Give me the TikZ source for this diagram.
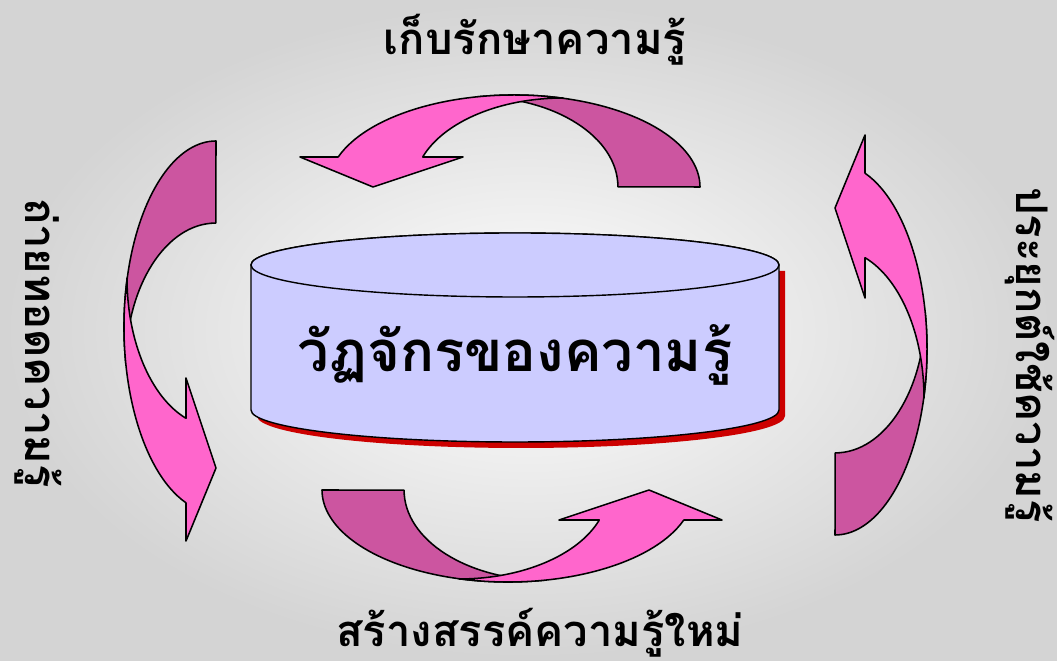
\documentclass[tikz,border=0pt]{standalone}
\usepackage{fontspec}
\newfontfamily\thaifont[Script=Thai]{Loma}
\definecolor{ribbonpink}{RGB}{255,102,204}
\definecolor{ribbondark}{RGB}{204,85,160}
\definecolor{drumblue}{RGB}{204,204,255}
\definecolor{drumshadow}{RGB}{204,0,0}
\begin{document}
\begin{tikzpicture}[
        x=0.025cm, y=0.025cm,
        steplabel/.style={font=\thaifont\bfseries\fontsize{31}{36}\selectfont, inner sep=0pt},
        band/.style={draw=black, line width=1.1pt, line join=round},
        cyclearrow/.pic={
            % back half of the ribbon
            \path[band, fill=ribbondark] (186,0) arc[start angle=0, end angle=101.5, x radius=186, y radius=92]
                arc[start angle=90, end angle=0, x radius=141, y radius=90] -- cycle;
            % front half with the head
            \path[band, fill=ribbonpink] (49,88.75) arc[start angle=74.73, end angle=160.97, x radius=186, y radius=92]
                -- (-214,30) -- (-141,0) -- (-51,30) -- (-91.3,30)
                arc[start angle=160.3, end angle=90, x radius=149, y radius=89] -- cycle;
        }
    ]
    \shade[inner color=white, outer color=black!17] (0,0) rectangle (1057,661);
    \useasboundingbox (0,0) rectangle (1057,661);

    % the four turning arrows
    \pic at (514,474) {cyclearrow};
    \pic[rotate=90] at (216,334) {cyclearrow};
    \pic[rotate=180] at (508,171) {cyclearrow};
    \pic[rotate=-90] at (835,312) {cyclearrow};

    % drum in the middle
    \begin{scope}[shift={(6,-6)}]
        \fill[drumshadow] (251,396) -- (251,251) arc[start angle=180, end angle=360, x radius=264, y radius=32] -- (779,396) -- cycle;
    \end{scope}
    \path[draw, fill=drumblue, line width=1pt] (251,396) -- (251,251) arc[start angle=180, end angle=360, x radius=264, y radius=32]
        -- (779,396) arc[start angle=0, end angle=180, x radius=264, y radius=32] -- cycle;
    \draw[fill=drumblue, line width=1pt] (515,396) ellipse[x radius=264, y radius=32];
    \node[font=\thaifont\bfseries\fontsize{40}{46}\selectfont, inner sep=0pt] (cycle) at (515,306) {วัฏจักรของความรู้};

    % step labels
    \node[steplabel] (store) at (535,621) {เก็บรักษาความรู้};
    \node[steplabel] (create) at (540,28) {สร้างสรรค์ความรู้ใหม่};
    \node[steplabel, rotate=-90] (share) at (38,318) {ถ่ายทอดความรู้};
    \node[steplabel, rotate=-90] (apply) at (1030,306) {ประยุกต์ใช้ความรู้};
\end{tikzpicture}
\end{document}
